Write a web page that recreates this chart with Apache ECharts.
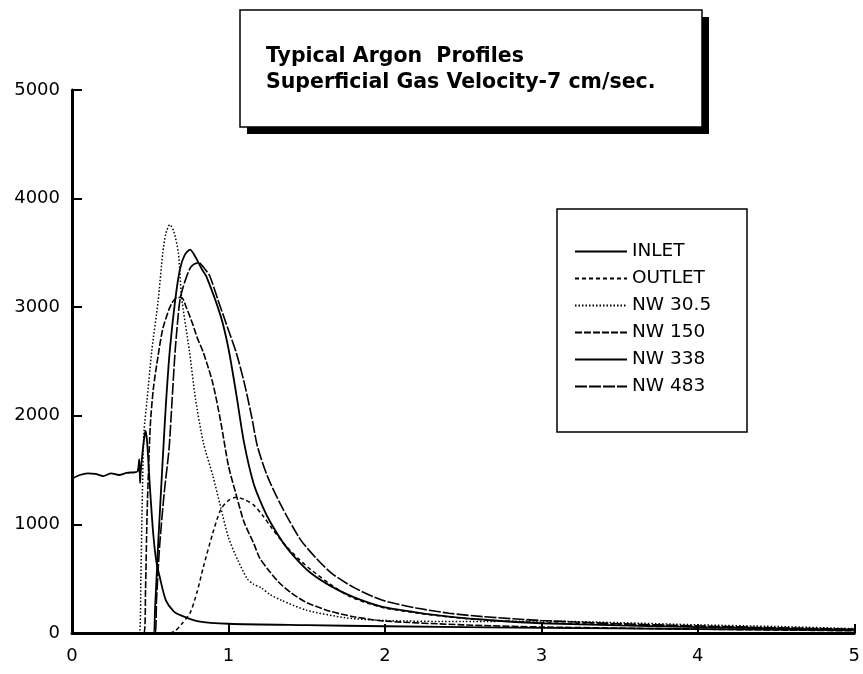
<!DOCTYPE html>
<html>
<head>
<meta charset="utf-8">
<script src="https://cdn.jsdelivr.net/npm/echarts@6/dist/echarts.min.js"></script>
<style>
  html, body { margin: 0; padding: 0; background: #fff; }
  #chart { width: 863px; height: 674px; }
</style>
</head>
<body>
<div id="chart"></div>
<script>
// x ticks / y ticks
const xTicks = [0, 1, 2, 3, 4, 5];
const yTicks = [0, 1000, 2000, 3000, 4000, 5000];
const seriesNames = ["INLET", "OUTLET", "NW 30.5", "NW 150", "NW 338", "NW 483"];

// INLET
const inletX = [0, 0.05, 0.1, 0.15, 0.2, 0.25, 0.3, 0.35, 0.4, 0.42, 0.43, 0.435, 0.44, 0.46, 0.47, 0.48, 0.5, 0.52, 0.54, 0.56, 0.6, 0.65, 0.7, 0.8, 1.0, 1.5, 2.0, 3.0, 4.0, 5.0];
const inletY = [1420, 1455, 1470, 1465, 1445, 1470, 1455, 1475, 1480, 1490, 1600, 1380, 1500, 1780, 1860, 1760, 1300, 900, 650, 520, 300, 200, 160, 110, 85, 72, 62, 48, 36, 25];

// OUTLET
const outletX = [0, 0.62, 0.66, 0.7, 0.755, 0.8, 0.84, 0.9, 0.95, 1.0, 1.05, 1.1, 1.16, 1.22, 1.27, 1.35, 1.45, 1.53, 1.65, 1.77, 1.9, 2.0, 2.2, 2.4, 2.63, 3.0, 3.5, 4.0, 4.5, 5.0];
const outletY = [0, 0, 20, 80, 185, 380, 610, 920, 1135, 1220, 1250, 1230, 1180, 1080, 980, 830, 680, 580, 450, 340, 270, 230, 185, 150, 120, 95, 75, 60, 45, 30];

// NW 30.5
const nw30X = [0, 0.43, 0.44, 0.45, 0.46, 0.48, 0.51, 0.55, 0.58, 0.6, 0.625, 0.65, 0.68, 0.7, 0.75, 0.79, 0.84, 0.9, 0.95, 1.0, 1.06, 1.12, 1.16, 1.21, 1.27, 1.34, 1.5, 1.75, 2.0, 2.5, 3.0, 3.5, 4.0, 4.5, 5.0];
const nw30Y = [0, 0, 500, 1300, 1850, 2150, 2600, 3050, 3500, 3680, 3760, 3700, 3500, 3100, 2600, 2150, 1750, 1450, 1160, 880, 670, 500, 450, 415, 350, 300, 210, 140, 115, 105, 110, 95, 75, 60, 40];

// NW 150
const nw150X = [0, 0.46, 0.47, 0.48, 0.5, 0.52, 0.55, 0.58, 0.62, 0.64, 0.67, 0.7, 0.73, 0.77, 0.8, 0.84, 0.9, 0.95, 1.0, 1.05, 1.1, 1.16, 1.2, 1.25, 1.32, 1.4, 1.5, 1.65, 1.8, 2.0, 2.5, 3.0, 3.5, 4.0, 4.5, 5.0];
const nw150Y = [0, 0, 400, 1100, 1900, 2250, 2550, 2800, 2980, 3040, 3090, 3090, 3000, 2850, 2720, 2580, 2300, 1950, 1540, 1270, 1020, 830, 690, 590, 470, 370, 280, 200, 150, 110, 75, 55, 45, 35, 28, 20];

// NW 338
const nw338X = [0, 0.52, 0.53, 0.55, 0.58, 0.6, 0.625, 0.66, 0.69, 0.72, 0.755, 0.79, 0.83, 0.86, 0.95, 1.0, 1.05, 1.1, 1.16, 1.22, 1.27, 1.35, 1.42, 1.52, 1.66, 1.8, 1.98, 2.2, 2.41, 2.7, 3.0, 3.5, 4.0, 4.5, 5.0];
const nw338Y = [0, 0, 200, 800, 1600, 2100, 2600, 3070, 3350, 3480, 3530, 3460, 3350, 3280, 2920, 2620, 2200, 1750, 1380, 1160, 1015, 830, 704, 560, 427, 330, 243, 190, 150, 115, 90, 70, 55, 42, 30];

// NW 483
const nw483X = [0, 0.53, 0.54, 0.56, 0.59, 0.62, 0.64, 0.66, 0.69, 0.72, 0.76, 0.81, 0.85, 0.88, 0.93, 0.99, 1.05, 1.1, 1.15, 1.185, 1.25, 1.34, 1.46, 1.56, 1.66, 1.8, 1.98, 2.2, 2.41, 2.63, 3.0, 3.5, 4.0, 4.5, 5.0];
const nw483Y = [0, 0, 300, 800, 1300, 1690, 2150, 2610, 3070, 3230, 3370, 3410, 3350, 3290, 3080, 2830, 2580, 2310, 1980, 1720, 1440, 1165, 860, 690, 550, 420, 304, 230, 182, 150, 115, 85, 65, 48, 35];

const allX = [inletX, outletX, nw30X, nw150X, nw338X, nw483X];
const allY = [inletY, outletY, nw30Y, nw150Y, nw338Y, nw483Y];
const dashes = ["solid", [4, 3], [1.5, 2], [7, 2], "solid", [12, 2]];
const widths = [1.8, 1.5, 1.5, 1.6, 1.8, 1.6];

const fontFam = "'DejaVu Sans', 'Liberation Sans', Arial, sans-serif";

var chart = echarts.init(document.getElementById("chart"));

var series = seriesNames.map(function (name, i) {
  return {
    name: name,
    type: "line",
    symbol: "none",
    smooth: 0.25,
    data: allX[i].map(function (x, j) { return [x, allY[i][j]]; }),
    lineStyle: { color: "#000", width: widths[i], type: dashes[i] },
    itemStyle: { color: "#000" },
    z: 3,
  };
});

var option = {
  animation: false,
  backgroundColor: "#fff",
  title: {
    text: "Typical Argon  Profiles\nSuperficial Gas Velocity-7 cm/sec.",
    left: 266,
    top: 44,
    padding: 0,
    textStyle: {
      fontFamily: fontFam,
      fontWeight: "bold",
      fontSize: 20.5,
      lineHeight: 26,
      color: "#000",
    },
  },
  legend: {
    orient: "vertical",
    left: 574,
    top: 242,
    padding: 0,
    itemWidth: 52,
    itemHeight: 14,
    itemGap: 8,
    data: seriesNames,
    itemStyle: { opacity: 0 },
    textStyle: { fontFamily: fontFam, fontSize: 18.5, color: "#000" },
  },
  grid: { left: 72, right: 7, top: 90, bottom: 41 },
  xAxis: {
    type: "value",
    min: xTicks[0],
    max: xTicks[xTicks.length - 1],
    interval: 1,
    splitLine: { show: false },
    axisLine: { lineStyle: { color: "#000", width: 3 } },
    axisTick: { inside: true, length: 9, lineStyle: { color: "#000", width: 2 } },
    axisLabel: { margin: 14, color: "#000", fontSize: 18, fontFamily: fontFam },
  },
  yAxis: {
    type: "value",
    min: yTicks[0],
    max: yTicks[yTicks.length - 1],
    interval: 1000,
    splitLine: { show: false },
    axisLine: { show: true, lineStyle: { color: "#000", width: 3 } },
    axisTick: { show: true, inside: true, length: 10, lineStyle: { color: "#000", width: 2 } },
    axisLabel: {
      margin: 12,
      color: "#000",
      fontSize: 18,
      fontFamily: fontFam,
      formatter: function (v) { return String(v); },
    },
  },
  graphic: [
    // title box shadow and frame
    { type: "rect", shape: { x: 247, y: 17, width: 462, height: 117 }, style: { fill: "#000" }, z: 1 },
    { type: "rect", shape: { x: 240, y: 10, width: 462, height: 117 }, style: { fill: "#fff", stroke: "#000", lineWidth: 1.5 }, z: 2 },
    // legend frame
    { type: "rect", shape: { x: 557, y: 209, width: 190, height: 223 }, style: { fill: "#fff", stroke: "#000", lineWidth: 1.5 }, z: 2 },
  ],
  series: series,
};

chart.setOption(option);
</script>
</body>
</html>
